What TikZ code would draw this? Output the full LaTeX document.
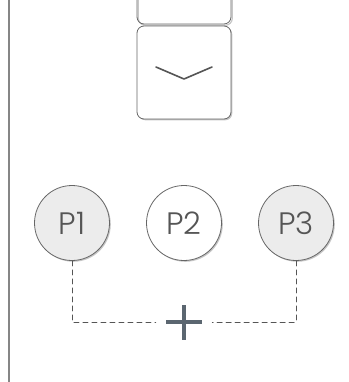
\documentclass[tikz,border=0pt]{standalone}
\usepackage{fontspec}
\setmainfont{Poppins}[UprightFont=* Light]
\usetikzlibrary{shadows}
\definecolor{edgegray}{HTML}{666666}
\definecolor{textgray}{HTML}{555555}
\definecolor{pfill}{HTML}{ECECEC}
\definecolor{plusgray}{HTML}{5B6670}
\tikzset{
	boxshadow/.style={drop shadow={shadow xshift=1.3pt,shadow yshift=-1.3pt,opacity=.45,fill=gray}},
	pcircle/.style={circle,draw=edgegray,line width=.8pt,minimum size=75pt,inner sep=0pt,
		text=textgray,font=\fontsize{31}{33}\selectfont,boxshadow},
	dashline/.style={draw=textgray,line width=.8pt,dash pattern=on 5pt off 4pt}
}
\begin{document}
\begin{tikzpicture}[x=1pt,y=-1pt,line join=round,line cap=round]
		\useasboundingbox (0,0) rectangle (348,382);
		%	divider on the left
		\draw[color=gray!95,line width=2pt,line cap=butt] (8.5,0)--(8.5,382);
		% box above, cut off
		\draw[gray,opacity=.45,line width=1.2pt,rounded corners=7pt] (138.3,-10)|-(232.3,25.3)--(232.3,-10);
		\draw[edgegray,line width=.8pt,rounded corners=7pt] (137,-10)|-(231,24)--(231,-10);
		\node[draw=edgegray,line width=.8pt,rounded corners=7pt,fill=white,minimum width=94pt,minimum height=93pt,boxshadow] (menu) at (184,72.5){};
		\draw[textgray,line width=1.6pt] ([xshift=-28pt,yshift=5.5pt]menu.center)--([yshift=-6.5pt]menu.center)--([xshift=28pt,yshift=5.5pt]menu.center);
		% P1 P2 P3
		\node[pcircle,fill=pfill] (p1) at (72,223){P1};
		\node[pcircle,fill=white] (p2) at (184,223){P2};
		\node[pcircle,fill=pfill] (p3) at (296,223){P3};
		\node[minimum width=56pt,minimum height=36pt,inner sep=0pt] (plus) at (184,322){};
		\draw[dashline] (p1.south)|-(plus.west);
		\draw[dashline] (p3.south)|-(plus.east);
		\draw[plusgray,line width=3.6pt,line cap=butt] ([xshift=-18pt]plus.center)--([xshift=18pt]plus.center);
		\draw[plusgray,line width=3.6pt,line cap=butt] ([yshift=-17.5pt]plus.center)--([yshift=17.5pt]plus.center);
		\end{tikzpicture}
\end{document}
